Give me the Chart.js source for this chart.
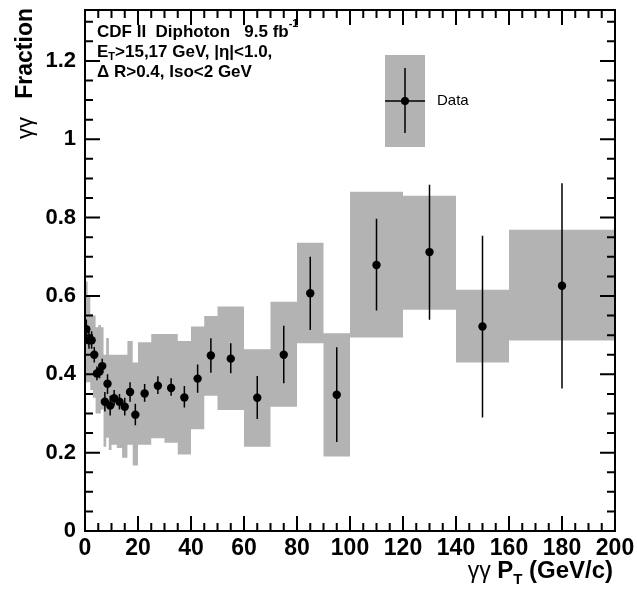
<!DOCTYPE html>
<html>
<head>
<meta charset="utf-8">
<script src="https://cdn.jsdelivr.net/npm/chart.js@4"></script>
<style>
  html, body { margin: 0; padding: 0; background: #fff; }
  canvas { display: block; }
</style>
</head>
<body>
<canvas id="frac-chart" width="637" height="589"></canvas>
<script>
// bin edges in diphoton pT (GeV/c)
const binEdges = [0, 1, 2, 3, 4, 5, 6, 7, 8, 9, 10, 12, 14, 16, 18, 20, 25, 30, 35, 40, 45, 50, 60, 70, 80, 90, 100, 120, 140, 160, 200];
const binCenters = [0.5, 1.5, 2.5, 3.5, 4.5, 5.5, 6.5, 7.5, 8.5, 9.5, 11, 13, 15, 17, 19, 22.5, 27.5, 32.5, 37.5, 42.5, 47.5, 55, 65, 75, 85, 95, 110, 130, 150, 180];

// measured fraction and stat error bar ends
const fraction = [0.515, 0.487, 0.487, 0.450, 0.402, 0.407, 0.421, 0.330, 0.376, 0.320, 0.339, 0.330, 0.317, 0.355, 0.297, 0.351, 0.371, 0.365, 0.341, 0.389, 0.448, 0.440, 0.340, 0.450, 0.607, 0.348, 0.679, 0.712, 0.522, 0.626];
const statLo = [0.49, 0.465, 0.465, 0.43, 0.385, 0.39, 0.405, 0.305, 0.35, 0.295, 0.32, 0.31, 0.295, 0.33, 0.27, 0.33, 0.35, 0.345, 0.315, 0.353, 0.404, 0.403, 0.286, 0.377, 0.513, 0.227, 0.563, 0.539, 0.29, 0.364];
const statHi = [0.54, 0.51, 0.51, 0.47, 0.42, 0.425, 0.44, 0.355, 0.40, 0.345, 0.36, 0.35, 0.34, 0.38, 0.325, 0.375, 0.395, 0.39, 0.37, 0.425, 0.492, 0.479, 0.396, 0.524, 0.70, 0.469, 0.797, 0.884, 0.754, 0.888];

// systematic band (grey boxes)
const sysLo = [0.38, 0.38, 0.36, 0.34, 0.30, 0.30, 0.31, 0.215, 0.238, 0.207, 0.22, 0.212, 0.187, 0.22, 0.167, 0.22, 0.237, 0.225, 0.195, 0.26, 0.345, 0.309, 0.215, 0.317, 0.479, 0.19, 0.494, 0.565, 0.43, 0.486];
const sysHi = [0.637, 0.598, 0.554, 0.55, 0.52, 0.526, 0.52, 0.45, 0.493, 0.45, 0.45, 0.45, 0.45, 0.485, 0.43, 0.482, 0.503, 0.503, 0.485, 0.522, 0.549, 0.573, 0.464, 0.585, 0.736, 0.505, 0.866, 0.856, 0.616, 0.769];

// axis ticks
const xTicks = [0, 20, 40, 60, 80, 100, 120, 140, 160, 180, 200];
const yTicks = [0, 0.2, 0.4, 0.6, 0.8, 1, 1.2];
const yTickLabels = ["0", "0.2", "0.4", "0.6", "0.8", "1", "1.2"];

const GREY = "#b3b3b3";
const FONT = "'Liberation Sans', Arial, Helvetica, sans-serif";

function stepLine(values) {
    let pts = [];
    for (let i = 0; i < values.length; i++) {
        pts.push({ x: binEdges[i], y: values[i] });
        pts.push({ x: binEdges[i + 1], y: values[i] });
    }
    return pts;
}

let errBars = [];
for (let i = 0; i < binCenters.length; i++) {
    errBars.push({ x: binCenters[i], y: statLo[i] });
    errBars.push({ x: binCenters[i], y: statHi[i] });
    errBars.push({ x: binCenters[i], y: null });
}

let points = binCenters.map(function(x, i) { return { x: x, y: fraction[i] }; });

// draws a row of text pieces: [text, font, dy]
function richText(ctx, x, y, parts, align) {
    let w = 0;
    parts.forEach(function(p) { ctx.font = p[1]; w += ctx.measureText(p[0]).width; });
    let cx = align === "right" ? x - w : x;
    ctx.textAlign = "left";
    ctx.textBaseline = "alphabetic";
    parts.forEach(function(p) {
        ctx.font = p[1];
        ctx.fillText(p[0], cx, y + (p[2] || 0));
        cx += ctx.measureText(p[0]).width;
    });
}

const rootFrame = {
    id: "rootFrame",
    afterDraw(chart) {
        const ctx = chart.ctx;
        const a = chart.chartArea;
        const xs = chart.scales.x;
        const ys = chart.scales.y;
        ctx.save();
        ctx.setLineDash([]);
        ctx.strokeStyle = "#000";
        ctx.lineWidth = 2;
        // x ticks, bottom and top, pointing inward
        for (let v = 0; v <= 200; v += 5) {
            let len = v % 20 === 0 ? 15 : 8;
            let px = xs.getPixelForValue(v);
            ctx.beginPath();
            ctx.moveTo(px, a.bottom); ctx.lineTo(px, a.bottom - len);
            ctx.moveTo(px, a.top); ctx.lineTo(px, a.top + len);
            ctx.stroke();
        }
        // y ticks, left and right
        for (let k = 0; k <= 26; k++) {
            let len = k % 4 === 0 ? 15 : 8;
            let py = ys.getPixelForValue(k * 0.05);
            ctx.beginPath();
            ctx.moveTo(a.left, py); ctx.lineTo(a.left + len, py);
            ctx.moveTo(a.right, py); ctx.lineTo(a.right - len, py);
            ctx.stroke();
        }
        ctx.strokeRect(a.left, a.top, a.right - a.left, a.bottom - a.top);

        // annotation
        ctx.fillStyle = "#000";
        const b17 = "bold 17px " + FONT;
        const b11 = "bold 11px " + FONT;
        richText(ctx, 97, 37, [["CDF II  Diphoton   9.5 fb", b17], ["-1", b11, -10]]);
        richText(ctx, 97, 57, [["E", b17], ["T", b11, 3], [">15,17 GeV, |\u03b7|<1.0,", b17]]);
        richText(ctx, 97, 77, [["\u0394 R>0.4, Iso<2 GeV", b17]]);

        // legend
        ctx.fillStyle = GREY;
        ctx.fillRect(385, 55, 40, 92);
        ctx.strokeStyle = "#000";
        ctx.lineWidth = 1.5;
        ctx.beginPath();
        ctx.moveTo(385, 101); ctx.lineTo(425, 101);
        ctx.moveTo(405, 68); ctx.lineTo(405, 133);
        ctx.stroke();
        ctx.fillStyle = "#000";
        ctx.beginPath();
        ctx.arc(405, 101, 4, 0, Math.PI * 2);
        ctx.fill();
        ctx.font = "15px " + FONT;
        ctx.textBaseline = "middle";
        ctx.fillText("Data", 437, 101);

        // axis titles
        richText(ctx, 613, 578, [["\u03b3\u03b3 ", "23px " + FONT], ["P", "bold 24px " + FONT], ["T", "bold 15px " + FONT, 6], [" (GeV/c)", "bold 24px " + FONT]], "right");
        ctx.translate(32, 8);
        ctx.rotate(-Math.PI / 2);
        richText(ctx, 0, 0, [["\u03b3\u03b3   ", "22px " + FONT], ["Fraction", "bold 23px " + FONT]], "right");
        ctx.restore();
    }
};

let ctx = document.getElementById("frac-chart").getContext("2d");
let fracChart = new Chart(ctx, {
    type: "line",
    data: {
        datasets: [
            {
                data: stepLine(sysHi),
                borderColor: "rgba(0,0,0,0)",
                borderWidth: 0,
                pointRadius: 0,
                fill: false,
                order: 3
            },
            {
                data: stepLine(sysLo),
                borderColor: "rgba(0,0,0,0)",
                borderWidth: 0,
                pointRadius: 0,
                backgroundColor: GREY,
                fill: "-1",
                order: 3
            },
            {
                data: errBars,
                borderColor: "#000",
                borderWidth: 1.5,
                pointRadius: 0,
                spanGaps: false,
                fill: false,
                order: 2
            },
            {
                data: points,
                showLine: false,
                pointRadius: 4.2,
                pointBackgroundColor: "#000",
                pointBorderWidth: 0,
                order: 1
            }
        ]
    },
    options: {
        responsive: false,
        animation: false,
        devicePixelRatio: 1,
        layout: { padding: { left: 0, right: 22, top: 10, bottom: 0 } },
        plugins: {
            legend: { display: false },
            tooltip: { enabled: false }
        },
        scales: {
            x: {
                type: "linear",
                min: 0,
                max: 200,
                grid: { display: false, drawTicks: false },
                border: { display: false },
                afterBuildTicks: function(scale) {
                    scale.ticks = xTicks.map(function(v) { return { value: v }; });
                },
                afterFit: function(scale) {
                    scale.height = 58;
                    scale.paddingLeft = 0;
                    scale.paddingRight = 0;
                },
                ticks: {
                    autoSkip: false,
                    maxRotation: 0,
                    padding: 4,
                    color: "#000",
                    font: { family: FONT, size: 23, weight: "bold" }
                }
            },
            y: {
                type: "linear",
                min: 0,
                max: 1.33,
                grid: { display: false, drawTicks: false },
                border: { display: false },
                afterBuildTicks: function(scale) {
                    scale.ticks = yTicks.map(function(v) { return { value: v }; });
                },
                afterFit: function(scale) {
                    scale.width = 85;
                    scale.paddingTop = 0;
                    scale.paddingBottom = 0;
                },
                ticks: {
                    autoSkip: false,
                    padding: 9,
                    color: "#000",
                    font: { family: FONT, size: 22, weight: "bold" },
                    callback: function(value, index) { return yTickLabels[index]; }
                }
            }
        }
    },
    plugins: [rootFrame]
});
</script>
</body>
</html>
